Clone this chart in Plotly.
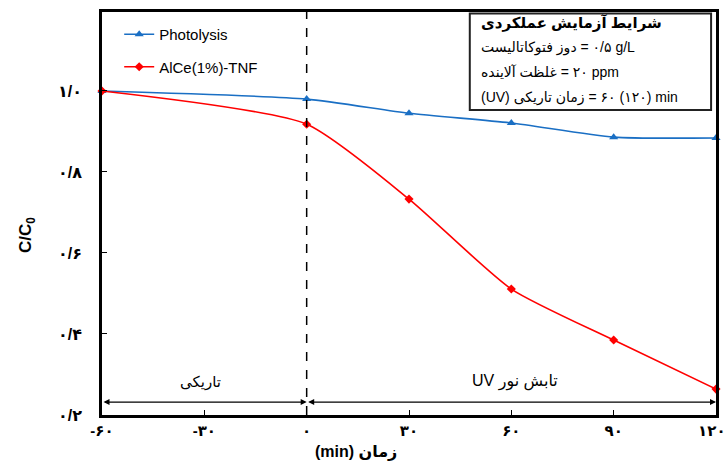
import plotly.graph_objects as go

time_min = [-60, 0, 30, 60, 90, 120]
photolysis = [1.0, 0.980, 0.945, 0.921, 0.886, 0.884]
alce_tnf = [1.0, 0.918, 0.733, 0.511, 0.385, 0.264]

x_tickvals = [-60, -30, 0, 30, 60, 90, 120]
x_ticktext = ["-۶۰", "-۳۰", "۰", "۳۰", "۶۰", "۹۰", "۱۲۰\u00a0\u00a0"]
y_tickvals = [0.2, 0.4, 0.6, 0.8, 1.0]
y_ticktext = ["۰/۲", "۰/۴", "۰/۶", "۰/۸", "۱/۰"]

FONT = "Liberation Sans, DejaVu Sans, Arial, sans-serif"

fig = go.Figure()
fig.add_trace(go.Scatter(
    x=time_min, y=photolysis, name="Photolysis", mode="lines+markers",
    line=dict(color="#1a6fc4", width=1.6, shape="spline", smoothing=0.6),
    marker=dict(symbol="triangle-up", size=8, color="#1a6fc4"),
    cliponaxis=False, legendgroup="a"))
fig.add_trace(go.Scatter(
    x=time_min, y=alce_tnf, name="AlCe(1%)-TNF", mode="lines+markers",
    line=dict(color="#ff0000", width=1.6, shape="spline", smoothing=0.6),
    marker=dict(symbol="diamond", size=7, color="#ff0000"),
    cliponaxis=False, legendgroup="b"))

# dashed separator at t=0
fig.add_shape(type="line", xref="x", yref="paper", x0=0, x1=0, y0=0, y1=1,
              line=dict(color="black", width=1.5, dash="dash"))

arrow_y = 0.232
for (a, b) in [(-60, 0), (0, 120)]:
    fig.add_annotation(x=b, y=arrow_y, ax=a, ay=arrow_y, xref="x", yref="y",
                       axref="x", ayref="y", text="", showarrow=True,
                       arrowhead=2, arrowside="end+start", arrowsize=1,
                       arrowwidth=1.2, arrowcolor="black", standoff=0, startstandoff=0)

fig.add_annotation(x=-31, y=0.282, xref="x", yref="y", text="تاریکی", showarrow=False,
                   font=dict(family=FONT, size=15, color="black"))
fig.add_annotation(x=61, y=0.282, xref="x", yref="y", text="UV تابش نور", showarrow=False,
                   font=dict(family=FONT, size=16, color="black"))

# conditions box
fig.add_shape(type="rect", xref="paper", yref="paper", x0=0.599, x1=0.992, y0=0.757, y1=0.996,
              line=dict(color="#222222", width=2), fillcolor="white", layer="above")
box_lines = [
    ("<b>شرایط آزمایش عملکردی</b>", 15, 23),
    ("دوز فتوکاتالیست\u200e = ۰/۵ g/L", 14, 47),
    ("غلظت آلاینده\u200e = ۲۰ ppm", 14, 72),
    ("(UV) زمان تاریکی\u200e = ۶۰ (۱۲۰) min", 14, 97),
]
for txt, sz, ypx in box_lines:
    fig.add_annotation(x=(479 - 102) / 614, y=(415 - ypx) / 403, xref="paper", yref="paper",
                       text=txt, showarrow=False, xanchor="left", yanchor="middle",
                       font=dict(family=FONT, size=sz, color="black"))

# axis titles
fig.add_annotation(x=(356 - 102) / 614, y=-(452 - 415) / 403, xref="paper", yref="paper",
                   text="<b>(min) زمان</b>", showarrow=False, xanchor="center", yanchor="middle",
                   font=dict(family=FONT, size=16, color="black"))
fig.add_annotation(x=-(102 - 27) / 614, y=(415 - 235) / 403, xref="paper", yref="paper",
                   text="<b>C/C<sub>0</sub></b>", showarrow=False, textangle=-90,
                   xanchor="center", yanchor="middle",
                   font=dict(family=FONT, size=17, color="black"))

fig.update_layout(
    width=728, height=465,
    margin=dict(l=102, r=12, t=12, b=50, autoexpand=False),
    paper_bgcolor="white", plot_bgcolor="white",
    font=dict(family=FONT, color="black"),
    showlegend=True,
    legend=dict(x=0.028, y=0.985, xanchor="left", yanchor="top", bgcolor="rgba(0,0,0,0)",
                font=dict(family=FONT, size=15, color="black"), tracegroupgap=10,
                itemwidth=30),
    xaxis=dict(range=[-60, 120], tickvals=x_tickvals, ticktext=x_ticktext, automargin=False,
               ticks="inside", ticklen=5, tickwidth=1, tickcolor="black",
               showline=True, linewidth=2.5, linecolor="black", mirror=True,
               showgrid=False, zeroline=False, ticklabeloverflow="allow",
               tickfont=dict(family=FONT, size=15, color="black", weight="bold")),
    yaxis=dict(range=[0.2, 1.195], tickvals=y_tickvals, ticktext=y_ticktext, automargin=False,
               ticks="inside", ticklen=5, tickwidth=1, tickcolor="black",
               showline=True, linewidth=2.5, linecolor="black", mirror=True,
               showgrid=False, zeroline=False, ticklabelstandoff=14, ticklabeloverflow="allow",
               tickfont=dict(family=FONT, size=16, color="black", weight="bold")),
)

fig.write_html("out.html", config={"displayModeBar": False},
               post_script="document.body.style.margin='0';document.body.style.padding='0';")
